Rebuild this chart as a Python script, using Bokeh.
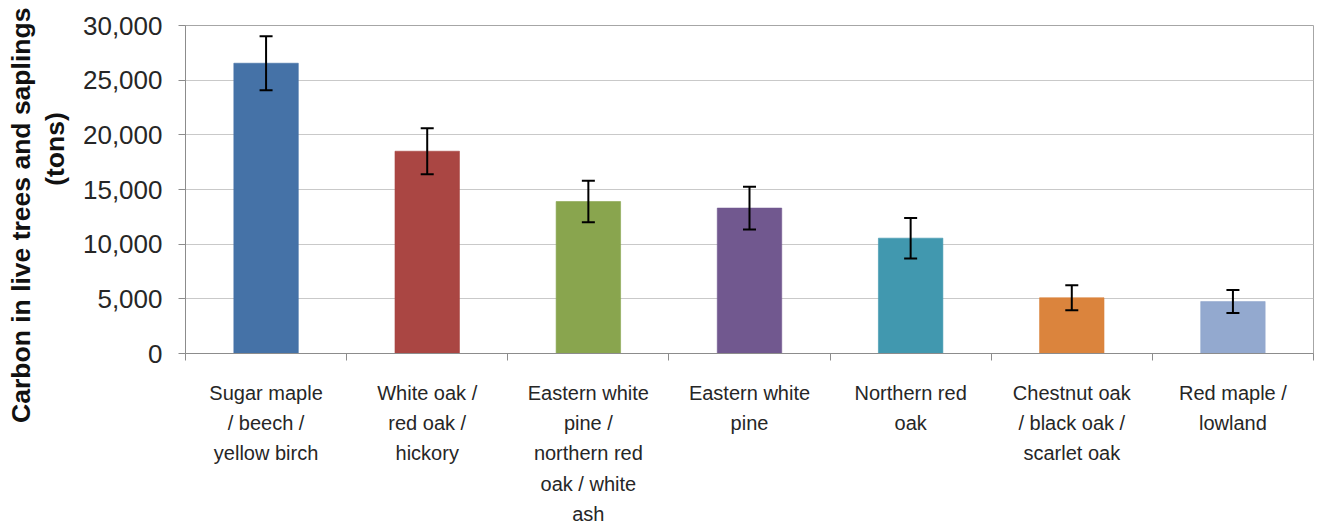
from bokeh.plotting import figure
from bokeh.models import (ColumnDataSource, FactorRange, Range1d, LinearAxis, CategoricalAxis,
                          FixedTicker, NumeralTickFormatter, Whisker, TeeHead)
from bokeh.embed import file_html
from bokeh.resources import INLINE

# ---- data ----
categories = [
    "Sugar maple\n/ beech /\nyellow birch",
    "White oak /\nred oak /\nhickory",
    "Eastern white\npine /\nnorthern red\noak / white\nash",
    "Eastern white\npine",
    "Northern red\noak",
    "Chestnut oak\n/ black oak /\nscarlet oak",
    "Red maple /\nlowland",
]
carbon = [26550, 18500, 13900, 13300, 10550, 5100, 4750]
error = [2470, 2100, 1900, 1950, 1850, 1150, 1050]
colors = ["#4572A7", "#AA4643", "#89A54E", "#71588F", "#4198AF", "#DB843D", "#93A9CF"]
y_ticks = [0, 5000, 10000, 15000, 20000, 25000, 30000]
y_title_1 = "Carbon in live trees and saplings"
y_title_2 = "(tons)"

src = ColumnDataSource(dict(
    cat=categories, val=carbon, color=colors,
    upper=[v + e for v, e in zip(carbon, error)],
    lower=[v - e for v, e in zip(carbon, error)],
))

FONT = "Liberation Sans"
GRID = "#C9C9C9"
AXIS = "#8C8C8C"
NB = "\u00a0"

p = figure(width=1317, height=527, x_range=FactorRange(*categories),
           y_range=Range1d(0, y_ticks[-1]), output_backend="svg", toolbar_location=None,
           x_axis_location=None, min_border_left=185, min_border_right=4,
           min_border_top=25, min_border_bottom=173)
p.background_fill_color = "white"
p.border_fill_color = "white"
p.outline_line_color = "#A6A6A6"
p.outline_line_width = 1

p.vbar(x="cat", top="val", width=0.4, source=src, fill_color="color",
       line_color="color", line_alpha=0.6, line_width=1)

w = Whisker(base="cat", upper="upper", lower="lower", source=src, dimension="height",
            line_color="black", line_width=2, level="overlay",
            upper_head=TeeHead(size=13, line_width=2, line_color="black"),
            lower_head=TeeHead(size=13, line_width=2, line_color="black"))
p.add_layout(w)

# y axis
ya = p.yaxis[0]
ya.ticker = FixedTicker(ticks=y_ticks)
ya.formatter = NumeralTickFormatter(format="0,0")
ya.major_label_text_font = FONT
ya.major_label_text_font_size = "26px"
ya.major_label_text_color = "#262626"
ya.axis_line_color = AXIS
ya.major_tick_line_color = AXIS
ya.major_tick_out = 7
ya.major_tick_in = 0
ya.minor_tick_line_color = None
ya.major_label_standoff = 16
ya.axis_label = y_title_1 + NB * 7 + "\n" + NB * 11 + y_title_2
ya.axis_label_text_font = FONT
ya.axis_label_text_font_size = "26.5px"
ya.axis_label_text_font_style = "bold"
ya.axis_label_text_color = "#111111"
ya.axis_label_text_line_height = 1.14
ya.axis_label_standoff = 10

p.xgrid.grid_line_color = None
p.ygrid.grid_line_color = GRID
p.ygrid.ticker = FixedTicker(ticks=y_ticks)

# boundary ticks between categories (synthetic factor coordinates 0..n)
n = len(categories)
tick_axis = LinearAxis(ticker=FixedTicker(ticks=list(range(n + 1))),
                       major_label_overrides={i: "" for i in range(n + 1)},
                       major_label_text_font_size="1px", major_label_standoff=0,
                       axis_line_color=AXIS, major_tick_line_color=AXIS,
                       major_tick_out=7, major_tick_in=0, minor_tick_line_color=None)
p.add_layout(tick_axis, "below")

cat_axis = CategoricalAxis(axis_line_color=None, major_tick_line_color=None,
                           major_tick_out=0, major_tick_in=0, major_label_standoff=21,
                           major_label_text_font=FONT, major_label_text_font_size="20px",
                           major_label_text_color="#262626",
                           major_label_text_line_height=1.38)
p.add_layout(cat_axis, "below")

open("out.html", "w").write(file_html(p, INLINE))
